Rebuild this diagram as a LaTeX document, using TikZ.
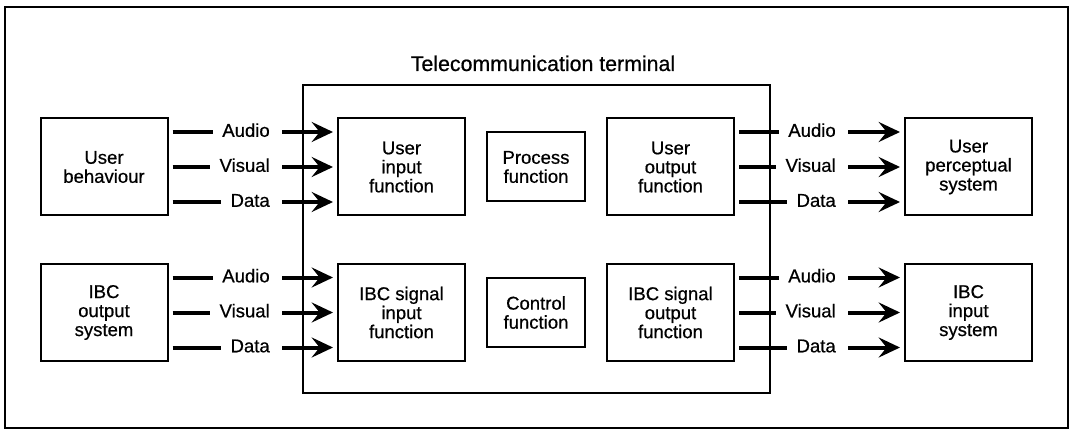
\documentclass[tikz,border=0pt]{standalone}
\usepackage{fontspec}
\setmainfont{Liberation Sans}[FakeBold=0.6]
\usetikzlibrary{arrows.meta}

\tikzset{
  box/.style={draw, line width=1.5pt, align=center, inner sep=0pt,
    minimum width=127*0.75pt, minimum height=97*0.75pt,
    font=\fontsize{13.9pt}{14.25pt}\selectfont},
  smallbox/.style={box, minimum width=98*0.75pt, minimum height=69*0.75pt},
  lbl/.style={inner sep=0pt, text height=0.72em, text depth=0pt,
    font=\fontsize{13.9pt}{14.25pt}\selectfont},
  seg/.style={line width=3pt},
  flow/.style={line width=3pt, -{Stealth[length=16pt, width=15pt, inset=6pt]}}
}

\begin{document}
\begin{tikzpicture}[x=0.75pt, y=-0.75pt]
  \useasboundingbox (0,0) rectangle (1071,431);
  \fill[white] (0,0) rectangle (1071,431);

  % outer frame and terminal enclosure
  \draw[line width=1.5pt] (5,7) rectangle (1068,428);
  \draw[line width=1.8pt] (303,85) rectangle (770,393);
  \node[anchor=base, inner sep=0pt, font=\fontsize{16pt}{19pt}\selectfont]
    (title) at (543,71) {Telecommunication terminal};

  % top row
  \node[box] (ub) at (104,167) {User\\behaviour};
  \node[box] (ui) at (401.5,167) {User\\input\\function};
  \node[smallbox] (pf) at (536,167) {Process\\function};
  \node[box] (uo) at (670.5,167) {User\\output\\function};
  \node[box] (up) at (968.5,167) {User\\perceptual\\system};

  % bottom row
  \node[box] (io) at (104,312.5) {IBC\\output\\system};
  \node[box] (ii) at (401.5,312.5) {IBC signal\\input\\function};
  \node[smallbox] (cf) at (536,312.5) {Control\\function};
  \node[box] (is) at (670.5,312.5) {IBC signal\\output\\function};
  \node[box] (ib) at (968.5,312.5) {IBC\\input\\system};

  % labelled input/output channels: line, label, arrow
  \foreach \src/\dst/\lx/\row/\pre in {ub/ui/270/167/a, uo/up/836/167/b, io/ii/270/312.5/c, is/ib/836/312.5/d}{
    \foreach \name/\dy in {Audio/-35, Visual/0, Data/35}{
      \node[lbl, anchor=east] (\pre\name) at (\lx,\row+\dy) {\name};
      \draw[seg] ([xshift=3pt]\src.east |- \pre\name.east) -- ([xshift=-7pt]\pre\name.west);
      \draw[flow] ([xshift=9pt]\pre\name.east) -- ([xshift=-3pt]\dst.west |- \pre\name.east);
    }
  }
\end{tikzpicture}
\end{document}
